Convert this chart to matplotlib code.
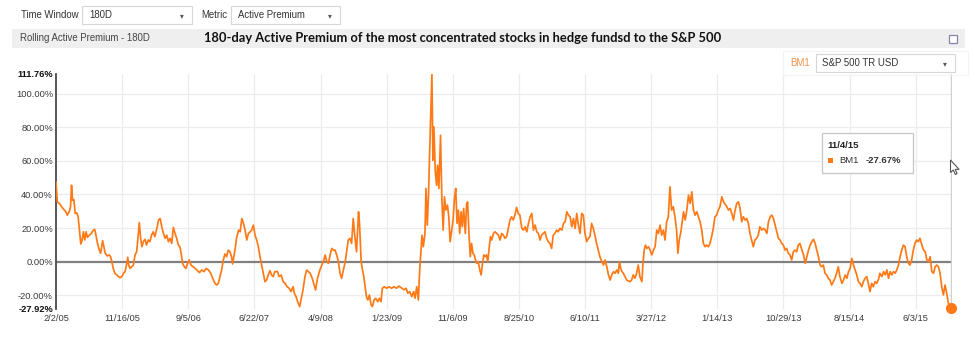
import matplotlib
matplotlib.use('Agg')
import matplotlib.pyplot as plt
from matplotlib.patches import Rectangle, Polygon
import numpy as np

# ---------------- data (trading-day index since 2/2/05, active premium %) ----------------
t_a = [0,4,10,17,24,30,34,40,44,47, 50,54,58,63,67,71,75,79,83,87,
       91,95,101,107,113,117,121,125,131,135, 141,145,149,155,161,165,169,173,178,184,
       189,194,199,204,209,214,217,220,224,229, 234,239,244,248,252,256,260,264,269,274,
       279,284,289,294,299,305,310,315,320,325, 330,335,340,345,350,355,360,365,370,375,
       380,383,388,393,398,403,408,415,421,428, 434,441,448,454,461,468,474,481,486,491,
       496,501,506,511,516,521,526,531,534,538, 542,546,552,557,562,567,572,577,582,587,
       592,597,602,607,612,617,622,627,632,637, 642,647,652,657,662]
v_a = [47.5,35.6,34.7,32.7,31,29.7,27.7,29.7,32.7,45.5,
       36.6,37,28.7,29,26.7,18.8,10.5,12.9,17.8,12.9,
       17.8,14.5,15.8,16.8,18.8,19.2,15.8,11.3,6.9,5,
       12.5,8.9,5,3.4,4,3,0,-4,-6.9,-7.9,
       -8.9,-9.5,-8.9,-6.9,-5.9,-1,2.6,-2,-4,-3,
       -2,4,5.9,14.9,23.2,13.9,8.9,11.9,13.3,9.9,
       12.9,11.9,15.8,17.8,14.9,19.8,24.8,25.7,20.8,16.8,
       13.9,15.8,11.9,13.9,10.9,20.4,16.8,13.9,9.9,8.9,
       3,-1,-3,-4,-1,1,-2,-3,-4,-5.3,
       -6.5,-4.9,-5.9,-4,-4.9,-6.9,-9.9,-12.9,-13.9,-12.9,
       -8.9,-4.9,1,4.6,3,6.9,5.9,3,-1.4,3,
       7.9,13.9,18.8,17.8,25.7,22.8,18.8,12.9,16.8,17.8,
       18.8,21.8,15.8,12.9,8.9,3,-2,-6.9,-11.9,-10.9,
       -7.9,-5.3,-7.9,-8.9,-5.9]

t_b = [670,675,681,687,693,699,705,711,717,721, 726,731,737,741,747,753,758,763,769,775,
       781,785,791,798,804,810,814,819,824,829, 834,839,844,849,854,859,864,869,874,879,
       884,889,894,899,904,909,915,918,923,927, 931,935,939,943,948,953,957,962,967,973,
       978,983,987,993,1000,1007,1015,1022,1030,1037, 1046,1053,1059,1064,1070,1076,1082,1086,1091,1096,
       1100,1104,1107,1111,1116,1119,1123,1127,1130,1134, 1137,1140,1143,1147,1151,1154,1158,1163,1167,1171,
       1175,1179,1184,1188,1192,1197,1201,1205,1209,1213, 1217,1221,1225,1229,1233,1238,1242,1245,1249,1253,
       1257,1261,1265,1269,1273,1277,1282,1286,1290,1294, 1298,1302,1306,1310,1314,1318,1323,1328,1333,1338,
       1343,1348,1353,1358]
v_b = [-5.9,-8.9,-7.9,-11.9,-12.9,-14.9,-15.8,-17.8,-14.9,-18.8,
       -20.8,-23.8,-26.7,-22.8,-16.8,-8.9,-5,-5.9,-6.9,-9.9,
       -13.9,-16.8,-9.9,-5,-2,1,4,0,-1,4,
       7.9,6.9,6.9,4,0,-6.9,-9.9,-5,-1,5.9,
       12.9,13.9,10.9,25.7,14.9,5.9,29.7,22.8,0,-5,
       -8.9,-14.9,-20.8,-22.8,-19.8,-25.7,-26.7,-22.8,-21.8,-23.8,
       -21.8,-23.8,-15.8,-14.9,-15.8,-14.9,-15.8,-14.9,-15.8,-14.5,
       -15.8,-16.8,-15.8,-18.8,-17.8,-20.8,-17.8,-21.8,-14.9,-22.8,
       -5,6.9,15.8,8.9,16.8,43.6,21.8,41.6,64.3,92,
       111.76,60.4,80.2,54.5,45.5,57.4,43.6,75.2,37.6,18.8,
       38.6,30.7,33.7,26.7,11.9,18.8,24.8,37.6,43.6,22.8,
       30.7,16.8,29.7,20.8,31.7,16.8,34.7,35.6,16.8,3,
       10.9,5,4,1,-1,0,-5,-7.9,-1,4,
       3,4,0,7.9,14.9,12.9,16.8,17.8,16.8,15.8,
       12.9,16.8,15.8,13.9]

t_c = [1363,1368,1373,1378,1383,1388,1393,1398,1403,1409, 1414,1419,1424,1429,1434,1439,1444,1449,1454,1459,
       1464,1469,1474,1479,1484,1489,1494,1499,1504,1509, 1514,1519,1524,1530,1535,1540,1545,1550,1555,1560,
       1565,1570,1575,1580,1585,1590,1595,1600,1605,1610, 1615,1620,1625,1630,1635,1640,1645,1651,1656,1661,
       1666,1671,1676,1681,1686,1691,1696,1701,1704,1708, 1712,1716,1721,1726,1731,1736,1741,1746,1751,1756,
       1761,1766,1772,1775,1779,1783,1787,1792,1797,1802, 1807,1812,1817,1822,1827,1832,1837,1842,1847,1852,
       1857,1862,1867,1872,1877,1881,1885,1890,1894,1898, 1903,1908,1913,1918,1923,1928,1933,1938,1943,1948,
       1953,1958,1963,1968,1973,1978,1983,1988,1993,1998, 2003,2008,2014,2019]
v_c = [14.9,19.8,24.8,26.7,24.8,27.7,32.3,28.7,27.7,19.8,
       18.8,20.8,17.8,22.8,26.7,28.7,18.8,21.8,17.8,16.8,
       12.9,15.8,16.8,17.8,13.9,11.9,10.9,7.9,15.8,16.8,
       18.8,17.8,19.8,18.8,22.8,23.8,29.7,27.7,26.7,20.8,
       25.7,19.8,28.7,21.8,16.8,28.7,27.7,16.8,11.9,13.9,
       14.9,22.8,19.8,15.8,10.9,6.9,3,0,-2,1,
       -3,-7.9,-10.9,-7.9,-5.9,-6.9,-4.9,-6.9,0,-4,
       -5.9,-6.9,-8.9,-10.9,-11.5,-11.9,-10.9,-7.9,-9.9,-6.9,
       -2,-8.9,-11.9,-2,6.9,9.9,7.9,8.9,6.9,4,
       6.9,8.9,18.8,16.8,21.8,15.8,18.8,12.9,23.8,26.7,
       44.6,30.7,32.7,26.7,18.8,5,12.9,17.8,23.8,29.7,
       24.8,30.7,39.6,34.7,41.6,30.7,27.7,29.7,26.7,23.8,
       18.8,10.9,8.9,9.9,8.9,10.9,14.9,19.8,26.7,27.7,
       30.7,32.7,38.6,35.6]

t_d = [2029,2034,2039,2044,2049,2054,2059,2064,2069,2074, 2079,2084,2089,2094,2099,2104,2109,2114,2119,2124,
       2129,2135,2140,2145,2150,2155,2160,2165,2170,2175, 2180,2185,2190,2195,2200,2205,2210,2215,2220,2225,
       2230,2235,2240,2245,2250,2256,2261,2266,2271,2276, 2281,2286,2291,2296,2301,2306,2311,2316,2321,2326,
       2331,2336,2341,2346,2351,2356,2361,2366,2371,2377, 2382,2387,2392,2397,2402,2407,2412,2417,2422,2427,
       2432,2437,2442,2447,2452,2457,2462,2467,2472,2477, 2482,2487,2492,2498,2503,2508,2513,2518,2523,2528,
       2533,2538,2543,2548,2553,2558,2563,2568,2573,2578, 2583,2588,2593,2598,2603,2608,2613,2619,2624,2629,
       2634,2639,2644,2649,2654,2659,2664,2669,2674,2679, 2684,2689,2694,2699,2704,2707]
v_d = [32.7,30.7,31.7,28.7,24.8,30.7,34.7,35.6,31.7,23.8,
       26.7,24.8,25.7,22.8,16.8,12.9,8.9,12.9,13.9,15.8,
       20.8,18.8,19.8,18.8,16.8,23.8,26.7,27.7,25.7,21.8,
       17.8,13.9,12.9,10.9,9.9,6.9,7.9,5,4,1,
       5.9,6.9,5.9,9.9,10.9,6.9,4,-1,3,6.9,
       9.9,11.9,13.3,10.9,6.9,3,-2,-3,-2,-6.9,
       -7.9,-9.9,-10.9,-13.9,-11.9,-9.9,-6.9,-3,-8.9,-12.9,
       -10.9,-7.9,-9.9,-5.9,-4,2,-2,-4.9,-7.9,-11.9,
       -12.9,-14.9,-11.9,-9.9,-8.9,-12.9,-17.8,-12.9,-14.9,-11.9,
       -12.9,-10.9,-6.9,-8.9,-5.9,-7.9,-4.9,-9.9,-5.9,-7.9,
       -5.9,-6.9,-4.9,-2,3,6.9,9.9,8.9,3,-1,
       -2,1,6.9,10.9,12.9,11.9,13.9,9.9,6.9,5.9,
       1,0,3,-5.9,-6.9,-3,-2,-3,-6.9,-14.9,
       -19.8,-13.9,-18.8,-24.8,-26.7,-27.67]

tick_pos = [0, 200, 400, 600, 800, 1000, 1200, 1400, 1600, 1800, 2000, 2200, 2400, 2600]
tick_labels = ['2/2/05', '11/16/05', '9/5/06', '6/22/07', '4/9/08', '1/23/09', '11/6/09',
               '8/25/10', '6/10/11', '3/27/12', '1/14/13', '10/29/13', '8/15/14', '6/3/15']
y_min, y_max = -27.92, 111.76
y_grid = [-20, 0, 20, 40, 60, 80, 100]
tooltip_date = '11/4/15'
tooltip_value = '-27.67%'
series_name = 'BM1'
benchmark = 'S&P 500 TR USD'
title = '180-day Active Premium of the most concentrated stocks in hedge fundsd to the S&P 500'

t = np.array(t_a + t_b + t_c + t_d)
v = np.array(v_a + v_b + v_c + v_d)

# ---------------- figure ----------------
W, H = 975, 346
ORANGE = '#FF7A17'
SANS = ['Liberation Sans', 'DejaVu Sans']
plt.rcParams['font.family'] = SANS

fig = plt.figure(figsize=(W / 100, H / 100), dpi=100)
fig.patch.set_facecolor('white')

ax_left, ax_right, ax_top, ax_bottom = 56, 952, 73.9, 308.6
ax = fig.add_axes([ax_left / W, (H - ax_bottom) / H, (ax_right - ax_left) / W, (ax_bottom - ax_top) / H])
ax.set_xlim(0, 2710)
ax.set_ylim(y_min, y_max)
for s in ['top', 'right', 'bottom']:
    ax.spines[s].set_visible(False)
ax.spines['left'].set_color('#4a4a4a')
ax.spines['left'].set_linewidth(1.3)

for g in y_grid:
    if g != 0:
        ax.axhline(g, color='#ececec', lw=0.9, zorder=0)
for p in tick_pos[1:]:
    ax.axvline(p, color='#ececec', lw=0.9, zorder=0)
ax.axhline(0, color='#808080', lw=1.6, zorder=1)
ax.axvline(t[-1], color='#d0d0d0', lw=1.0, zorder=1)

ax.plot(t, v, color=ORANGE, lw=1.25, zorder=3, solid_joinstyle='round')
ax.plot([t[-1]], [v[-1]], 'o', color=ORANGE, ms=7, zorder=4, clip_on=False)

yt = [y_min] + y_grid + [y_max]
ax.set_yticks(yt)
ax.set_yticklabels([f'{x:.2f}%' for x in yt])
for lbl, val in zip(ax.get_yticklabels(), yt):
    if val in (y_min, y_max):
        lbl.set_fontweight('bold')
        lbl.set_color('#111111')
    else:
        lbl.set_color('#3a3a3a')
ax.set_xticks(tick_pos)
ax.set_xticklabels(tick_labels)
ax.tick_params(axis='y', length=0, pad=2.2, labelsize=6.7)
ax.tick_params(axis='x', length=0, pad=3.6, labelsize=6.7, labelcolor='#3a3a3a')
ax.set_facecolor('none')

# ---------------- UI overlay in pixel coords ----------------
ui = fig.add_axes([0, 0, 1, 1])
ui.set_xlim(0, W)
ui.set_ylim(H, 0)
ui.axis('off')
ui.patch.set_alpha(0)

def dropdown(x0, x1, y0, y1, label):
    ui.add_patch(Rectangle((x0, y0), x1 - x0, y1 - y0, facecolor='white', edgecolor='#d6d6d6', lw=0.8))
    ui.text(x0 + 7, (y0 + y1) / 2, label, fontsize=6.9, color='#333333', va='center', ha='left')
    ui.text(x1 - 10, (y0 + y1) / 2 + 0.5, '▾', fontsize=5.5, color='#555555', va='center', ha='center',
            family=['DejaVu Sans'])

ui.text(21, 15, 'Time Window', fontsize=6.9, color='#333333', va='center', ha='left')
dropdown(82, 192, 6, 23.5, '180D')
ui.text(201, 15, 'Metric', fontsize=6.9, color='#333333', va='center', ha='left')
dropdown(231, 340, 6, 23.5, 'Active Premium')

ui.add_patch(Rectangle((12, 29), 953, 18.7, facecolor='#efefef', edgecolor='none'))
ui.text(19.5, 38.2, 'Rolling Active Premium - 180D', fontsize=6.9, color='#444444', va='center', ha='left')

tt = ui.text(204, 38, title, fontsize=9.5, fontweight='bold', color='#111111', va='center', ha='left',
             family=['Lato', 'DejaVu Sans'])
fig.canvas.draw()
bb = tt.get_window_extent()
tt.set_fontsize(9.5 * (721.7 - 204) / bb.width)

# window icon
ui.add_patch(Rectangle((948.5, 34.5), 8.5, 8, facecolor='white', edgecolor='#8585a5', lw=0.9))
ui.add_patch(Rectangle((948.5, 34.5), 8.5, 1.8, facecolor='#8585a5', edgecolor='none'))

# benchmark selector
ui.add_patch(Rectangle((782.5, 51), 185, 24, facecolor='none', edgecolor='#f3f3f3', lw=0.8))
ui.text(790, 62.5, series_name, fontsize=7, color='#F6934A', va='center', ha='left')
dropdown(815.5, 954.5, 54.2, 71.7, benchmark)

# tooltip
ui.add_patch(Rectangle((821.7, 133.3), 91.6, 40, facecolor='white', edgecolor='#c6c6c6', lw=0.9))
ui.text(827.7, 145.5, tooltip_date, fontsize=6.8, fontweight='bold', color='#222222', va='center', ha='left')
ui.add_patch(Rectangle((827.8, 157.6), 5, 5, facecolor=ORANGE, edgecolor='none'))
ui.text(839.5, 160.2, series_name, fontsize=6.8, color='#333333', va='center', ha='left')
ui.text(865.5, 160.2, tooltip_value, fontsize=6.8, fontweight='bold', color='#333333', va='center', ha='left')

# mouse cursor
cx, cy = 950.5, 160
cur = np.array([[0, 0], [0, 12.5], [2.8, 10], [4.8, 14.5], [6.6, 13.7], [4.7, 9.4], [8.6, 9.4]])
ui.add_patch(Polygon(cur + [cx, cy], closed=True, facecolor='white', edgecolor='#555555', lw=0.8))

fig.savefig('out.png', dpi=100, facecolor='white')
